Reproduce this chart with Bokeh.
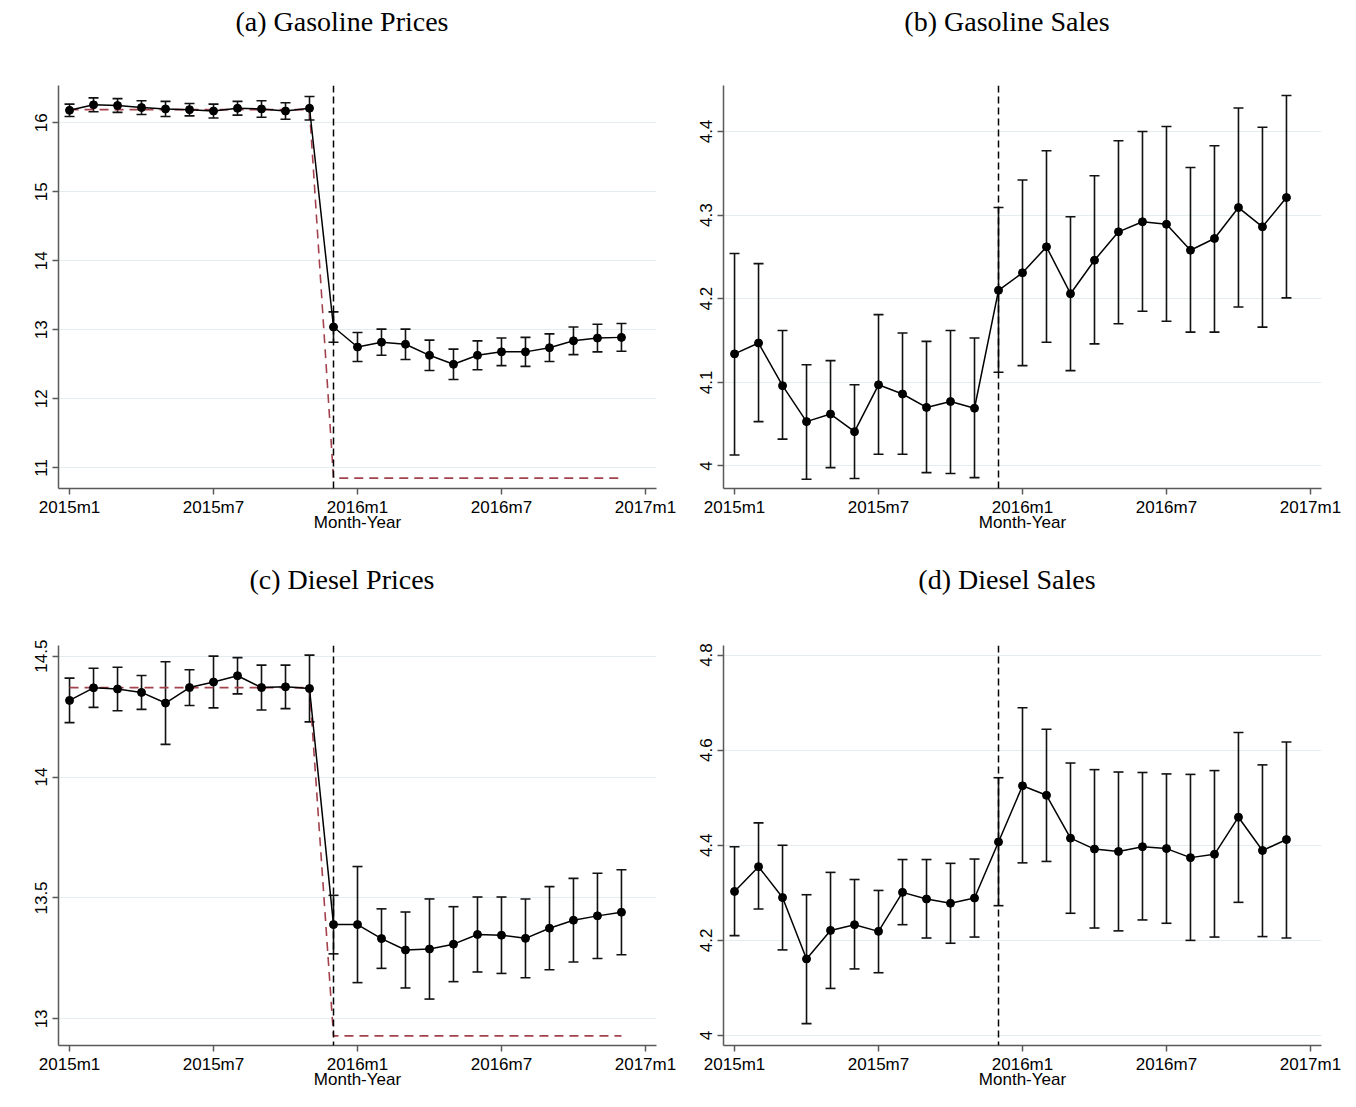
from bokeh.plotting import figure
from bokeh.models import (ColumnDataSource, Whisker, TeeHead, Span, Div,
                          FixedTicker, Range1d)
from bokeh.layouts import column, row
from bokeh.embed import file_html
from bokeh.resources import INLINE

# ---------------- data ----------------
months = list(range(24))  # 0 = 2015m1 ... 23 = 2016m12
x_ticks = [0, 6, 12, 18, 24]
x_tick_labels = ["2015m1", "2015m7", "2016m1", "2016m7", "2017m1"]
event_month = 11  # 2015m12

titles = ["(a) Gasoline Prices", "(b) Gasoline Sales",
          "(c) Diesel Prices", "(d) Diesel Sales"]
x_label = "Month-Year"

# (a) Gasoline prices
gas_price = [16.18, 16.26, 16.25, 16.22, 16.20, 16.19, 16.17, 16.21, 16.20, 16.17, 16.21,
             13.04, 12.75, 12.82, 12.79, 12.63, 12.50, 12.63, 12.68, 12.68, 12.74, 12.84, 12.88, 12.89]
gas_price_ci = [0.09, 0.10, 0.10, 0.10, 0.11, 0.09, 0.10, 0.10, 0.12, 0.12, 0.17,
                0.22, 0.21, 0.19, 0.22, 0.22, 0.22, 0.21, 0.20, 0.21, 0.20, 0.20, 0.20, 0.20]
tax_x = [0, 10, 11, 23]
gas_tax_line = [16.19, 16.19, 10.85, 10.85]

# (b) Gasoline sales
gas_sales = [4.134, 4.147, 4.096, 4.053, 4.062, 4.041, 4.097, 4.086, 4.070, 4.077, 4.069,
             4.210, 4.231, 4.262, 4.206, 4.246, 4.280, 4.292, 4.289, 4.258, 4.272, 4.309, 4.286, 4.321]
gas_sales_hi = [4.254, 4.242, 4.162, 4.121, 4.126, 4.097, 4.181, 4.159, 4.149, 4.162, 4.153,
                4.309, 4.342, 4.377, 4.298, 4.347, 4.389, 4.400, 4.406, 4.357, 4.383, 4.428, 4.405, 4.443]
gas_sales_lo = [4.013, 4.053, 4.032, 3.984, 3.998, 3.985, 4.014, 4.014, 3.992, 3.991, 3.986,
                4.112, 4.120, 4.148, 4.114, 4.146, 4.170, 4.185, 4.173, 4.160, 4.160, 4.190, 4.166, 4.201]

# (c) Diesel prices
dsl_price = [14.317, 14.369, 14.364, 14.350, 14.306, 14.370, 14.393, 14.419, 14.370, 14.373, 14.366,
             13.390, 13.390, 13.332, 13.285, 13.289, 13.309, 13.349, 13.346, 13.333, 13.375, 13.408, 13.426, 13.441]
dsl_price_ci = [0.092, 0.081, 0.090, 0.070, 0.171, 0.074, 0.107, 0.075, 0.093, 0.090, 0.138,
                0.121, 0.240, 0.123, 0.157, 0.207, 0.155, 0.155, 0.158, 0.163, 0.172, 0.173, 0.176, 0.176]
dsl_tax_line = [14.37, 14.37, 12.93, 12.93]

# (d) Diesel sales
dsl_sales = [4.303, 4.355, 4.290, 4.161, 4.221, 4.233, 4.219, 4.301, 4.287, 4.278, 4.289,
             4.407, 4.525, 4.505, 4.415, 4.392, 4.387, 4.397, 4.393, 4.374, 4.381, 4.459, 4.389, 4.412]
dsl_sales_hi = [4.397, 4.447, 4.400, 4.296, 4.343, 4.328, 4.305, 4.370, 4.370, 4.362, 4.371,
                4.542, 4.689, 4.644, 4.573, 4.559, 4.554, 4.553, 4.550, 4.549, 4.557, 4.637, 4.569, 4.617]
dsl_sales_lo = [4.210, 4.266, 4.180, 4.025, 4.099, 4.140, 4.132, 4.233, 4.205, 4.194, 4.207,
                4.273, 4.363, 4.366, 4.257, 4.226, 4.220, 4.243, 4.236, 4.200, 4.207, 4.280, 4.208, 4.205]

y_ticks = [[11, 12, 13, 14, 15, 16], [4, 4.1, 4.2, 4.3, 4.4],
           [13, 13.5, 14, 14.5], [4, 4.2, 4.4, 4.6, 4.8]]
y_ranges = [(10.70, 16.54), (3.973, 4.455), (12.89, 14.544), (3.979, 4.82)]

# ---------------- styling ----------------
SANS = "Liberation Sans"
SERIF = "Liberation Serif"
AXIS_COL = "#5a5a5a"
GRID_COL = "#e3edf0"
RED = "#a3424c"


def fmt(v):
    return ("%g" % v)


def make_title(text, height, shift):
    return Div(text=text, width=676, height=height, margin=0,
               styles={"font-family": SERIF, "font-size": "28px", "color": "black",
                       "text-align": "center", "line-height": f"{height}px",
                       "text-indent": f"{shift}px", "white-space": "nowrap"})


def make_panel(idx, y, lo, hi, tax=None, left_border=58, right_border=20,
               top_border=41, bottom_border=68, frame_h=403):
    src = ColumnDataSource(dict(x=months, y=y, lo=lo, hi=hi))
    p = figure(frame_width=598, frame_height=frame_h, output_backend="svg",
               toolbar_location=None, x_range=Range1d(-0.46, 24.46),
               y_range=Range1d(*y_ranges[idx]),
               min_border_left=left_border, min_border_right=right_border,
               min_border_top=top_border, min_border_bottom=bottom_border)
    p.outline_line_color = None
    p.background_fill_color = "white"
    p.border_fill_color = "white"

    # grid
    p.xgrid.grid_line_color = None
    p.ygrid.grid_line_color = GRID_COL
    p.ygrid.grid_line_width = 1.2

    # axes
    p.xaxis.ticker = FixedTicker(ticks=x_ticks)
    p.xaxis.major_label_overrides = {t: l for t, l in zip(x_ticks, x_tick_labels)}
    p.yaxis.ticker = FixedTicker(ticks=y_ticks[idx])
    p.yaxis.major_label_overrides = {t: fmt(t) for t in y_ticks[idx]}
    p.yaxis.major_label_orientation = "vertical"
    for ax in (p.xaxis, p.yaxis):
        ax.axis_line_color = AXIS_COL
        ax.axis_line_width = 1.5
        ax.major_tick_line_color = AXIS_COL
        ax.major_tick_line_width = 1.5
        ax.major_tick_out = 6
        ax.major_tick_in = 0
        ax.minor_tick_line_color = None
        ax.major_label_text_font = SANS
        ax.major_label_text_font_size = "17px"
        ax.major_label_text_color = "black"
    p.xaxis.major_label_standoff = 3
    p.yaxis.major_label_standoff = 5
    p.xaxis.axis_label = x_label
    p.xaxis.axis_label_text_font = SANS
    p.xaxis.axis_label_text_font_size = "17px"
    p.xaxis.axis_label_text_font_style = "normal"
    p.xaxis.axis_label_text_color = "black"
    p.xaxis.axis_label_standoff = -7

    # tax counterfactual line
    if tax is not None:
        p.line(tax_x, tax, line_color=RED, line_width=1.6, line_dash="9 6")

    # event line
    p.add_layout(Span(location=event_month, dimension="height", line_color="black",
                      line_width=1.5, line_dash="7 4"))

    # confidence intervals
    p.add_layout(Whisker(source=src, base="x", lower="lo", upper="hi",
                         line_color="#111111", line_width=1.6,
                         upper_head=TeeHead(size=10, line_color="#111111", line_width=1.6),
                         lower_head=TeeHead(size=10, line_color="#111111", line_width=1.6)))
    p.line("x", "y", source=src, line_color="black", line_width=1.5)
    p.scatter("x", "y", source=src, size=8, fill_color="black", line_color="black")
    return p


gas_lo = [v - c for v, c in zip(gas_price, gas_price_ci)]
gas_hi = [v + c for v, c in zip(gas_price, gas_price_ci)]
dsl_lo = [v - c for v, c in zip(dsl_price, dsl_price_ci)]
dsl_hi = [v + c for v, c in zip(dsl_price, dsl_price_ci)]

pa = make_panel(0, gas_price, gas_lo, gas_hi, tax=gas_tax_line)
pb = make_panel(1, gas_sales, gas_sales_lo, gas_sales_hi, left_border=47, right_border=31)
pc = make_panel(2, dsl_price, dsl_lo, dsl_hi, tax=dsl_tax_line,
                top_border=41, bottom_border=58, frame_h=400)
pd_ = make_panel(3, dsl_sales, dsl_sales_lo, dsl_sales_hi, left_border=47, right_border=31,
                 top_border=41, bottom_border=58, frame_h=400)

ta = make_title(titles[0], 44, 8)
tb = make_title(titles[1], 44, -14)
tc = make_title(titles[2], 48, 8)
td = make_title(titles[3], 48, -14)

layout = column(row(ta, tb), row(pa, pb), row(tc, td), row(pc, pd_))
open("out.html", "w").write(file_html(layout, INLINE))
